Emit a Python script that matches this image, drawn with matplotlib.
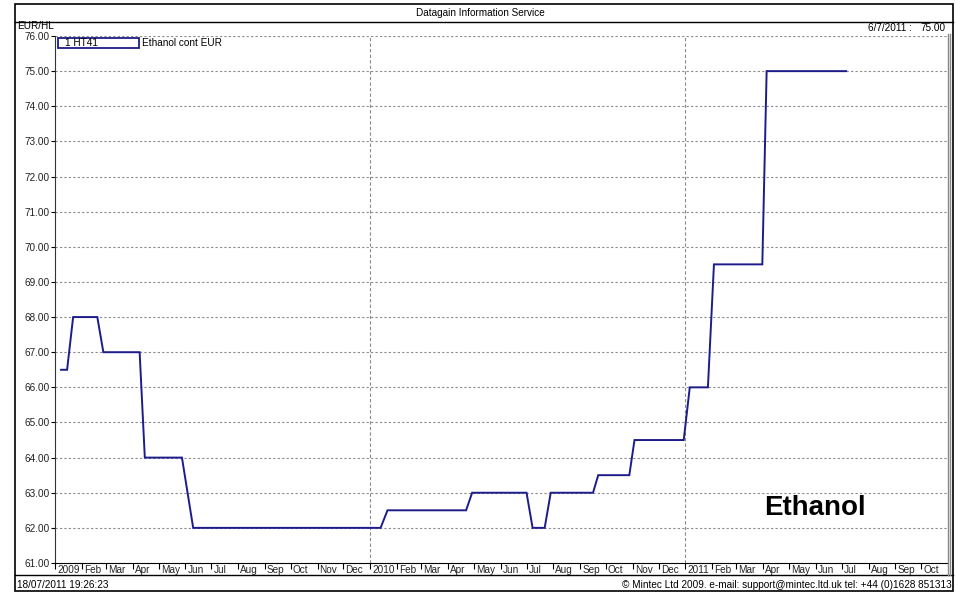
import datetime as dt
import matplotlib
matplotlib.use("Agg")
import matplotlib.pyplot as plt
import matplotlib.dates as mdates
from matplotlib.patches import Rectangle
from matplotlib.lines import Line2D

plt.rcParams['font.family'] = ['Liberation Sans', 'DejaVu Sans']

# weekly Ethanol cont EUR prices (EUR/HL), vertices
dates = ["2009-01-08", "2009-01-15", "2009-01-22", "2009-02-19", "2009-02-26",
         "2009-04-09", "2009-04-15", "2009-05-28", "2009-06-10", "2010-01-13",
         "2010-01-21", "2010-04-22", "2010-04-29", "2010-07-01", "2010-07-08",
         "2010-07-22", "2010-07-29", "2010-09-16", "2010-09-22", "2010-10-28",
         "2010-11-03", "2010-12-30", "2011-01-06", "2011-01-27", "2011-02-03",
         "2011-03-31", "2011-04-05", "2011-07-06"]
prices = [66.5, 66.5, 68.0, 68.0, 67.0,
          67.0, 64.0, 64.0, 62.0, 62.0,
          62.5, 62.5, 63.0, 63.0, 62.0,
          62.0, 63.0, 63.0, 63.5, 63.5,
          64.5, 64.5, 66.0, 66.0, 69.5,
          69.5, 75.0, 75.0]
y_ticks = list(range(61, 77))
month_names = ["Jan", "Feb", "Mar", "Apr", "May", "Jun",
               "Jul", "Aug", "Sep", "Oct", "Nov", "Dec"]

W, H = 956, 592
fig = plt.figure(figsize=(W / 100, H / 100), dpi=100)

def px(x, y):
    return x / W, 1 - y / H

# outer frame and separators
fig.patches.append(Rectangle(px(15, 591), (953 - 15) / W, (591 - 4) / H,
                             transform=fig.transFigure, fill=False,
                             edgecolor="black", linewidth=1.2))
for yy in (22, 575):
    fig.lines.append(Line2D([15 / W, 953 / W], [1 - yy / H] * 2,
                            transform=fig.transFigure, color="black", lw=1.0))
for xx in (947.5, 950):
    fig.lines.append(Line2D([xx / W] * 2, [1 - 34 / H, 1 - 575 / H],
                            transform=fig.transFigure, color="#888888", lw=1.0))

small = 7.2
fig.text(*px(480, 13), "Datagain Information Service", ha="center", va="center", fontsize=small)
fig.text(*px(17, 26), "EUR/HL", ha="left", va="center", fontsize=small)
fig.text(*px(912, 28), "6/7/2011 :", ha="right", va="center", fontsize=small)
fig.text(*px(946, 28), "75.00", ha="right", va="center", fontsize=small)
fig.text(*px(17, 585), "18/07/2011 19:26:23", ha="left", va="center", fontsize=small)
fig.text(*px(952, 585), "\u00a9 Mintec Ltd 2009. e-mail: support@mintec.ltd.uk tel: +44 (0)1628 851313",
         ha="right", va="center", fontsize=small)

ax = fig.add_axes([55 / W, (H - 563) / H, (948 - 55) / W, (563 - 36) / H])
x = [dt.datetime.strptime(d, "%Y-%m-%d") for d in dates]
ax.plot(x, prices, color="#1c1c8a", lw=1.4, solid_joinstyle="miter")

ax.set_xlim(dt.datetime(2009, 1, 1), dt.datetime(2011, 11, 1))
ax.set_ylim(61, 76)

for s in ("top", "right"):
    ax.spines[s].set_visible(False)
ax.spines["left"].set_linestyle((0, (2, 1)))
ax.spines["left"].set_color("#333333")
ax.spines["bottom"].set_color("black")

ax.set_yticks(y_ticks)
ax.set_yticklabels([f"{v:.2f}" for v in y_ticks], fontsize=small, color="#222222")
ax.tick_params(axis="y", length=3, width=0.8, pad=1)
for lab in ax.get_yticklabels():
    lab.set_verticalalignment("center_baseline")
for v in y_ticks[1:]:
    ax.axhline(v, color="#8a8a8a", lw=0.8, ls=(0, (2, 2)), zorder=0)

months = []
d = dt.datetime(2009, 1, 1)
while d < dt.datetime(2011, 11, 1):
    months.append(d)
    d = dt.datetime(d.year + (d.month == 12), d.month % 12 + 1, 1)
ax.set_xticks(months)
ax.set_xticklabels([])
ax.tick_params(axis="x", length=4, width=0.8, direction="out")
for m in months:
    lab = str(m.year) if m.month == 1 else month_names[m.month - 1]
    ax.annotate(lab, (mdates.date2num(m), 0), xycoords=("data", "axes fraction"),
                xytext=(2, -2), textcoords="offset pixels", ha="left", va="top",
                fontsize=small, color="#222222")
    if m.month == 1 and m.year > 2009:
        ax.axvline(m, color="#8a8a8a", lw=0.8, ls=(0, (3, 2)), zorder=0)

# legend box
fig.patches.append(Rectangle(px(58, 48), 81 / W, 10 / H, transform=fig.transFigure,
                             fill=False, edgecolor="#1c1c8a", linewidth=1.3))
fig.text(*px(65, 43), "1 HT41", ha="left", va="center", fontsize=small)
fig.text(*px(142, 43), "Ethanol cont EUR", ha="left", va="center", fontsize=small)

fig.text(*px(815, 508), "Ethanol", ha="center", va="center", fontsize=20, fontweight="bold")

fig.savefig("out.png", dpi=100)
